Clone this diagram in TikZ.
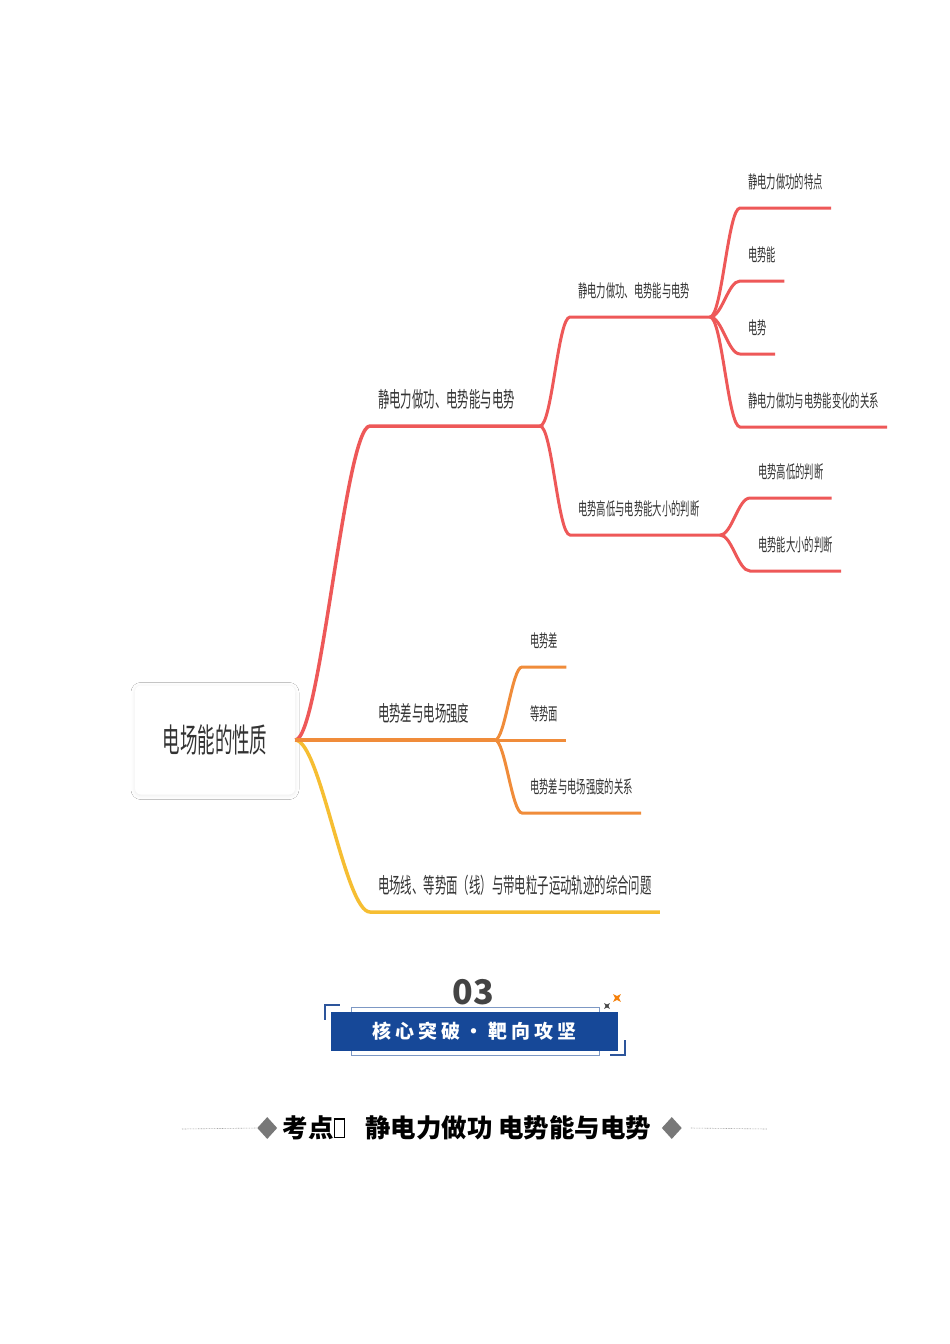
\documentclass[tikz,border=0pt]{standalone}
\usepackage{fontspec}
\setmainfont{Noto Sans CJK SC}
\newfontfamily\cjk{Noto Sans CJK SC}
\newfontfamily\cjknarrow{Noto Sans CJK SC}[FakeStretch=0.53]
\usetikzlibrary{shapes.geometric, shadows.blur, positioning}
\definecolor{mmred}{RGB}{238,88,88}
\definecolor{mmorange}{RGB}{240,140,58}
\definecolor{mmyellow}{RGB}{246,190,50}
\definecolor{mmtext}{RGB}{51,51,51}
\definecolor{bannerblue}{RGB}{22,72,152}
\definecolor{frameblue}{RGB}{125,152,196}
\definecolor{bracketblue}{RGB}{45,85,155}
\definecolor{digitgray}{RGB}{68,68,68}
\definecolor{diagray}{RGB}{120,120,120}
\newcommand{\tofubox}{\raisebox{1pt}{\fboxsep=0pt\fboxrule=1.2pt\fbox{\rule{0pt}{17pt}\hspace{9pt}}}}

\begin{document}
\begin{tikzpicture}[
    x=1pt, y=-1pt,
    root/.style={rectangle, rounded corners=6pt, fill=white, minimum width=160pt, minimum height=109pt, blur shadow={shadow xshift=0pt, shadow yshift=-1pt, shadow blur radius=4pt, shadow blur steps=8, shadow opacity=8}, text=mmtext, font=\cjknarrow\fontsize{33}{36}\selectfont},
    topic/.style={anchor=south west, minimum height=52pt, inner xsep=8pt, inner ysep=0pt, text=mmtext, font=\cjknarrow\fontsize{21.5}{24}\selectfont},
    subtopic/.style={topic, font=\cjknarrow\fontsize{17.6}{20}\selectfont},
    redmain/.style={draw=mmred, line width=3.5pt},
    redsub/.style={draw=mmred, line width=3pt},
    orangemain/.style={draw=mmorange, line width=3.5pt},
    orangesub/.style={draw=mmorange, line width=3pt},
    yellowmain/.style={draw=mmyellow, line width=3.5pt},
    digits/.style={text=digitgray, font=\cjk\bfseries\fontsize{34}{36}\selectfont},
    bannerbox/.style={rectangle, fill=bannerblue, minimum width=287pt, minimum height=39pt, inner sep=0pt, text=white, font=\cjk\bfseries\fontsize{19}{21}\selectfont\addfontfeature{LetterSpace=22}},
    framebox/.style={rectangle, draw=frameblue, line width=1pt, minimum width=248pt, minimum height=48pt},
    bracket/.style={draw=bracketblue, line width=1.6pt},
    sparkle/.style={star, star points=4, star point ratio=0.35, shape border rotate=0, inner sep=0pt},
    heading/.style={inner sep=0pt, text=black, font=\cjk\bfseries\fontsize{25.5}{28}\selectfont},
    dia/.style={diamond, fill=diagray, inner sep=0pt, minimum width=20pt, minimum height=22pt},
    dotline/.style={draw=gray!70, line width=0.6pt, dash pattern=on 0.8pt off 0.8pt}
  ]
  \useasboundingbox[fill=white] (0,0) rectangle (950,1344);

  % mind map
  \node[root] (root) at (215,740) {电场能的性质};

  \node[topic] (t1) at (370,426) {静电力做功、电势能与电势};
  \node[topic] (t2) at (370,740) {电势差与电场强度};
  \node[topic] (t3) at (370,912) {电场线、等势面（线）与带电粒子运动轨迹的综合问题};
  \coordinate (rj) at (540,426);
  \coordinate (oj) at (495,740);

  \node[subtopic] (s1) at (570,317) {静电力做功、电势能与电势};
  \node[subtopic] (s2) at (570,535) {电势高低与电势能大小的判断};
  \coordinate (sj1) at (710,317);
  \coordinate (sj2) at (720,535);

  \node[subtopic] (p1) at (740,208) {静电力做功的特点};
  \node[subtopic] (p2) at (740,281) {电势能};
  \node[subtopic] (p3) at (740,354) {电势};
  \node[subtopic] (p4) at (740,427) {静电力做功与电势能变化的关系};
  \node[subtopic] (q1) at (750,498) {电势高低的判断};
  \node[subtopic] (q2) at (750,571) {电势能大小的判断};

  \node[subtopic] (o1) at (522,667) {电势差};
  \node[subtopic] (o2) at (522,740) {等势面};
  \node[subtopic] (o3) at (522,813) {电势差与电场强度的关系};

  \draw[redmain] (root.east) .. controls +(25,0) and +(-25,0) .. (t1.south west) -- (rj);
  \draw[yellowmain] (root.east) .. controls +(25,0) and +(-25,0) .. (t3.south west) -- (t3.south east);
  \draw[orangemain] (root.east) -- (oj);

  \draw[redsub] (rj) .. controls +(12,0) and +(-12,0) .. (s1.south west) -- (sj1);
  \draw[redsub] (rj) .. controls +(12,0) and +(-12,0) .. (s2.south west) -- (sj2);
  \foreach \n in {p1,p2,p3,p4}
    \draw[redsub] (sj1) .. controls +(12,0) and +(-12,0) .. (\n.south west) -- (\n.south east);
  \foreach \n in {q1,q2}
    \draw[redsub] (sj2) .. controls +(12,0) and +(-12,0) .. (\n.south west) -- (\n.south east);
  \foreach \n in {o1,o3}
    \draw[orangesub] (oj) .. controls +(10,0) and +(-10,0) .. (\n.south west) -- (\n.south east);
  \draw[orangesub] (oj) -- (o2.south west) -- (o2.south east);

  % section banner
  \node[digits] (num) at (473,992) {03};
  \node[framebox] (frm) at (475,1031) {};
  \node[bannerbox] (banner) at (474.5,1031.5) {核心突破·靶向攻坚};
  \draw[bracket] ([shift={(9pt,7pt)}]banner.north west) -| ([shift={(-6pt,-8pt)}]banner.north west);
  \draw[bracket] ([shift={(7pt,11pt)}]banner.south east) |- ([shift={(-8pt,-4pt)}]banner.south east);
  \node[sparkle, fill=digitgray, minimum size=2.8pt] (st1) at (607,1006) {};
  \node[sparkle, fill=orange!85!brown, minimum size=3.8pt] (st2) at (617,998) {};

  % heading
  \node[heading] (kd) at (467,1128) {考点\tofubox\hspace{20pt}静电力做功 电势能与电势};
  \node[dia, left=5pt of kd] (d1) {};
  \node[dia, right=10pt of kd] (d2) {};
  \coordinate (dl) at (182,1129);
  \coordinate (dr) at (767,1129);
  \draw[dotline] (dl) -- (d1.west);
  \draw[dotline] ([xshift=9pt]d2.east) -- (dr);
\end{tikzpicture}
\end{document}
